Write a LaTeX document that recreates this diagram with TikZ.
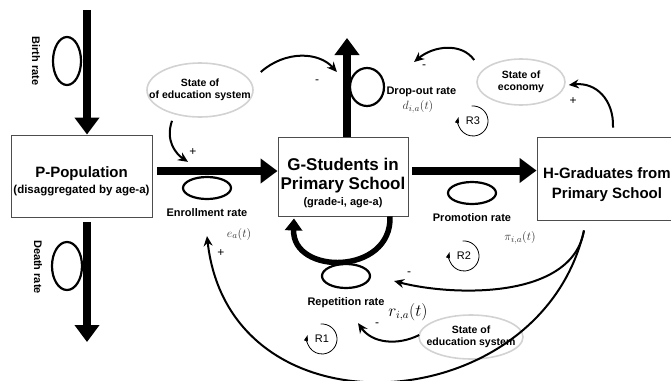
\documentclass[tikz,border=0pt]{standalone}
\usepackage{fontspec}
\setmainfont{Liberation Sans}
\usepackage{xcolor}
\definecolor{stockline}{HTML}{4D4D4D}
\definecolor{auxline}{HTML}{D2D2D2}
\definecolor{symgray}{HTML}{333333}
\usepackage{tikz}
\usetikzlibrary{shapes.geometric, arrows.meta, positioning}

\newcommand{\slim}[1]{\makebox[0pt]{#1}}

\begin{document}
\begin{tikzpicture}[
    x=1pt, y=-1pt,
    stock/.style={rectangle, draw=stockline, line width=0.9pt, align=center, inner sep=0pt},
    valve/.style={ellipse, draw, line width=2.2pt, inner sep=0pt},
    aux/.style={ellipse, draw=auxline, line width=1.6pt, inner sep=0pt, align=center, font=\fontsize{10.5}{12.5}\selectfont\bfseries},
    rate/.style={font=\fontsize{11}{13}\selectfont\bfseries},
    sym/.style={text=symgray, font=\fontsize{12.5}{14}\selectfont},
    sign/.style={font=\fontsize{12}{12}\selectfont, inner sep=1pt},
    loopid/.style={font=\fontsize{11}{13}\selectfont, inner sep=1pt},
    flow/.style={line width=8pt, -{Triangle[width=24pt, length=17pt]}},
    backflow/.style={line width=5.5pt, -{Triangle[width=17pt, length=12pt]}},
    link/.style={line width=2pt, -{Stealth[width=9pt, length=10pt]}},
    loopmark/.style={line width=0.8pt, -{Triangle[width=4pt, length=6pt]}}
]
\useasboundingbox (0,0) rectangle (671,380);

% Stocks
\node[stock, minimum width=141pt, minimum height=82pt, font=\fontsize{11.5}{16}\selectfont\bfseries] (pop) at (81.5,176)
    {\rule{0pt}{21.5pt}{\fontsize{15}{16}\selectfont P-Population}\\(disaggregated by age-a)};
\node[stock, minimum width=130pt, minimum height=79pt, font=\fontsize{17}{18.5}\selectfont\bfseries] (gs) at (343,176.5)
    {\rule{0pt}{25.8pt}G-Students in\\Primary School\\[-2.5pt]{\fontsize{11}{13}\selectfont (grade-i, age-a)}};
\node[stock, minimum width=140pt, minimum height=83pt, font=\fontsize{15}{20}\selectfont\bfseries] (grad) at (607,178.5)
    {\rule{0pt}{23pt}H-Graduates from\\Primary School};

% Auxiliaries
\node[aux, minimum width=106pt, minimum height=54pt] (edutop) at (200,90) {\slim{State of}\\\slim{of education system}};
\node[aux, minimum width=88pt, minimum height=46pt] (econ) at (521,82) {\slim{State of}\\\slim{economy}};
\node[aux, minimum width=104pt, minimum height=44pt] (edubot) at (471,337) {\slim{State of}\\\slim{education system}};

% Flow pipes
\coordinate (birthsrc) at (87,10);
\coordinate (deathsnk) at (87,342);
\coordinate (dropsnk) at (347,38);
\draw[flow] (birthsrc) -- (birthsrc |- pop.north);
\draw[flow, shorten <=5pt] (deathsnk |- pop.south) -- (deathsnk);
\draw[flow, shorten <=5pt] ([yshift=5pt]pop.east) -- ([yshift=5pt]pop.east -| gs.west);
\draw[flow] (dropsnk |- gs.north) -- (dropsnk);
\draw[flow, shorten <=4pt] ([yshift=6pt]gs.east) -- ([yshift=6pt]gs.east -| grad.west);
\draw[backflow] ([xshift=47pt]gs.south) .. controls +(2,59) and +(-2,57) .. ([shift={(-49,2)}]gs.south);

% Valves
\node[valve, minimum width=28pt, minimum height=48pt] (birthv) at (67,61) {};
\node[valve, minimum width=30pt, minimum height=48pt] (deathv) at (67,266) {};
\node[valve, minimum width=48pt, minimum height=22pt] (enrolv) at (207,188) {};
\node[valve, minimum width=34pt, minimum height=38pt] (dropv) at (367,87) {};
\node[valve, minimum width=48pt, minimum height=22pt] (promv) at (472,193) {};
\node[valve, minimum width=48pt, minimum height=24pt] (repv) at (346,276) {};

% Rate labels
\node[rate, rotate=-90] (birthlbl) at (36,61) {Birth rate};
\node[rate, rotate=-90] (deathlbl) at (38,267) {Death rate};
\node[rate, below=5pt of enrolv] (enrollbl) {Enrollment rate};
\node[rate, anchor=west] (droplbl) at (383,92) {Drop-out rate};
\node[rate, below=5pt of promv] (promlbl) {Promotion rate};
\node[rate, below=5pt of repv] (replbl) {Repetition rate};

\node[sym] (enrolsym) at (239,234) {$e_a(t)$};
\node[sym] (dropsym) at (418,107) {$d_{i,a}(t)$};
\node[sym] (promsym) at (520,238) {$\pi_{i,a}(t)$};
\node[sym, text=black, font=\fontsize{16}{18}\selectfont] (repsym) at (408,312) {$r_{i,a}(t)$};

% Causal links
\draw[link] ([shift={(-28,3)}]edutop.south) .. controls +(-7,20) and +(-12,-8) .. ([shift={(-19,-14)}]enrolv.north);
\draw[link] ([shift={(7,-18)}]edutop.east) .. controls +(25,-22) and +(-18,-20) .. ([shift={(-12,-15)}]dropv.west);
\draw[link] ([shift={(-2,-22)}]econ.west) .. controls +(-13,-18) and +(19,-16) .. ([shift={(29,-25)}]dropv.east);
\draw[link] ([shift={(6,-9)}]grad.north) .. controls +(1,-28) and +(27,-3) .. ([shift={(3,3)}]econ.east);
\draw[link] ([shift={(1,-2)}]edubot.west) .. controls +(-22,11) and +(14,20) .. ([shift={(12,34)}]repv.south);
\draw[link] ([shift={(-23,10)}]grad.south) .. controls +(-12,70) and +(57,15) .. ([shift={(23,5)}]repv.east);
\draw[link] ([shift={(-23,10)}]grad.south) .. controls +(-44,190) and +(23,205) .. ([shift={(0,36)}]enrolv.south);

% Polarities
\node[sign] (sg1) at (193,152) {+};
\node[sign] (sg2) at (317,82) {-};
\node[sign] (sg3) at (424,67) {-};
\node[sign] (sg4) at (573,101) {+};
\node[sign] (sg5) at (377,325) {-};
\node[sign] (sg6) at (409,274) {-};
\node[sign] (sg7) at (221,253) {+};

% Loops
\node[loopid] (r1) at (322,339) {R1};
\node[loopid] (r2) at (464,256) {R2};
\node[loopid] (r3) at (473,121) {R3};
\draw[loopmark] ([shift={(95:15pt)}]r1.center) arc[start angle=95, end angle=-195, radius=15pt];
\draw[loopmark] ([shift={(95:15pt)}]r2.center) arc[start angle=95, end angle=-195, radius=15pt];
\draw[loopmark] ([shift={(95:15pt)}]r3.center) arc[start angle=95, end angle=-195, radius=15pt];

\end{tikzpicture}
\end{document}
